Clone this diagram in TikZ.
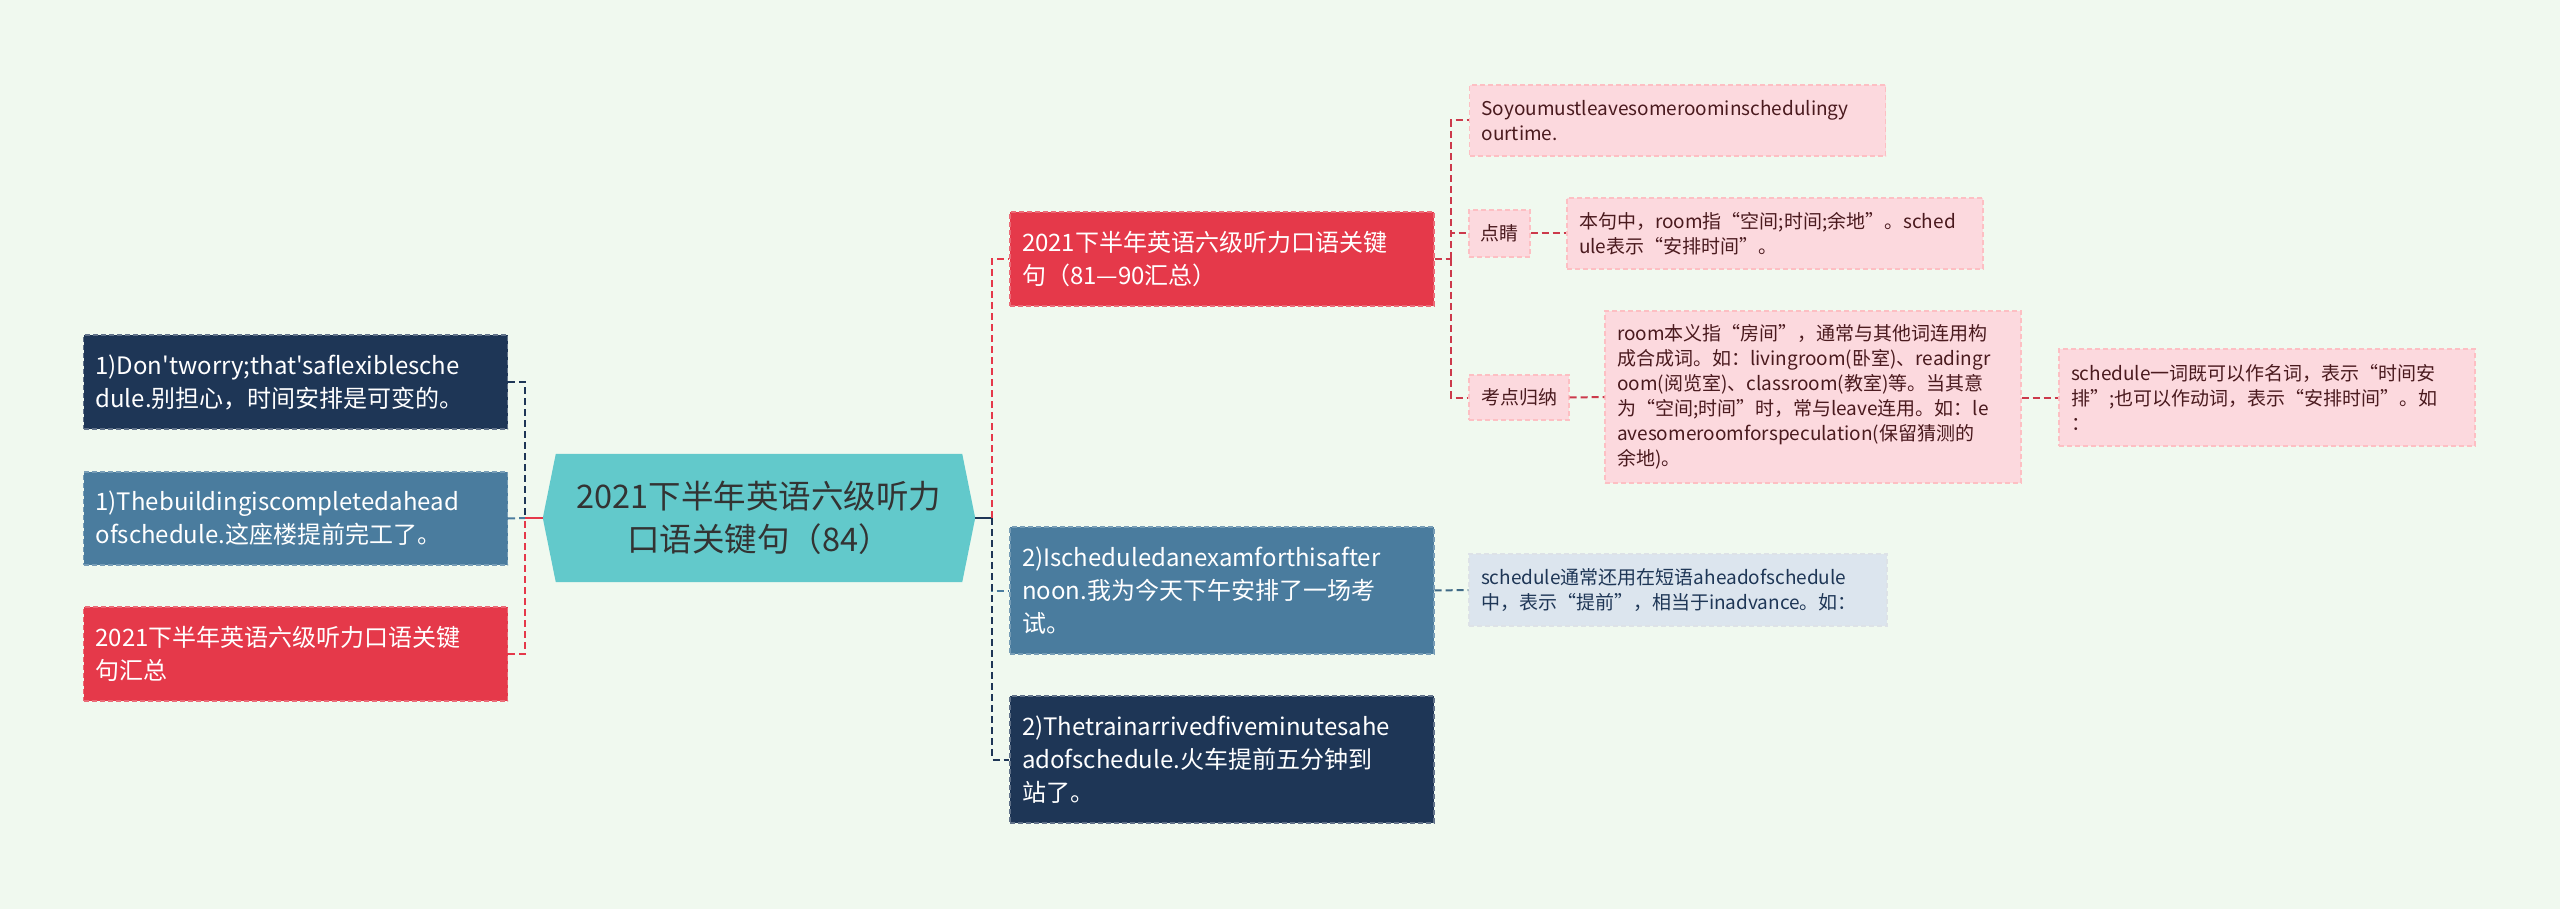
\documentclass[tikz,border=0pt]{standalone}
\usepackage{fontspec}
\setmainfont{Noto Sans CJK SC}[Ligatures=TeXOff]
\usetikzlibrary{calc}
\definecolor{bgc}{HTML}{F0F9EF}
\definecolor{navy}{HTML}{1E3656}
\definecolor{steel}{HTML}{4A7C9E}
\definecolor{redc}{HTML}{E5394A}
\definecolor{tealc}{HTML}{62C9CB}
\definecolor{pinkc}{HTML}{FCD9DE}
\definecolor{lblue}{HTML}{DCE5EE}
\definecolor{maroon}{HTML}{4A1A1E}
\definecolor{linkred}{HTML}{CC3A4B}
\pgfdeclarelayer{back}
\pgfsetlayers{back,main}
\tikzset{
  box/.style={rectangle, inner xsep=12pt, inner ysep=0pt, align=left, dash pattern=on 5pt off 3pt, line width=1.2pt},
  mainbox/.style={box, text=white, font=\fontsize{24}{33}\selectfont, text width=400pt, minimum height=#1},
  navybox/.style={mainbox=#1, fill=navy, draw=navy!70!white},
  steelbox/.style={mainbox=#1, fill=steel, draw=steel!75!white},
  redbox/.style={mainbox=#1, fill=redc, draw=redc!75!white},
  notebox/.style={box, fill=pinkc, draw=pinkc!85!red!90!white, text=maroon, font=\fontsize{19}{25}\selectfont, text width=392pt, minimum height=#1},
  tagbox/.style={box, inner xsep=4pt, align=center, fill=pinkc, draw=pinkc!85!red!90!white, text=maroon, font=\fontsize{19}{25}\selectfont, minimum height=#1},
  bluenote/.style={box, fill=lblue, draw=lblue!90!black!60!white, text=navy, font=\fontsize{19}{25}\selectfont, text width=394pt, minimum height=#1},
  conn/.style={line width=2pt, dash pattern=on 7pt off 4pt},
}
\begin{document}
\begin{tikzpicture}[x=1pt,y=-1pt]
\begin{pgfonlayer}{back}
\fill[bgc] (0,0) rectangle (2560,909);
\end{pgfonlayer}
\useasboundingbox (0,0) rectangle (2560,909);

% left nodes
\node[navybox=94] (L1) at (295.5,382) {1)Don'tworry;that'saflexiblesche\\dule.别担心，时间安排是可变的。};
\node[steelbox=93] (L2) at (295.5,518.5) {1)Thebuildingiscompletedahead\\ofschedule.这座楼提前完工了。};
\node[redbox=94] (L3) at (295.5,654) {2021下半年英语六级听力口语关键\\句汇总};

% center
\node[minimum width=432pt, minimum height=128pt, inner sep=0pt, align=center, text=black!80, font=\fontsize{32.5}{43}\selectfont] (C) at (759,518) {2021下半年英语六级听力\\口语关键句（84）};
\begin{pgfonlayer}{back}
\fill[tealc] (C.west) -- ($(C.north west)+(13,0)$) -- ($(C.north east)+(-13,0)$) -- (C.east) -- ($(C.south east)+(-13,0)$) -- ($(C.south west)+(13,0)$) -- cycle;
\end{pgfonlayer}

% right main nodes
\node[redbox=94] (R1) at (1222,259) {2021下半年英语六级听力口语关键\\句（81—90汇总）};
\node[steelbox=127] (R2) at (1222,590.5) {2)Ischeduledanexamforthisafter\\noon.我为今天下午安排了一场考\\试。};
\node[navybox=127] (R3) at (1222,759.5) {2)Thetrainarrivedfiveminutesahe\\adofschedule.火车提前五分钟到\\站了。};

% notes
\node[notebox=71] (S1) at (1677.5,120.5) {Soyoumustleavesomeroominschedulingy\\ourtime.};
\node[tagbox=47, minimum width=61pt] (T1) at (1499.5,233.5) {点睛};
\node[notebox=71] (B1) at (1775,233.5) {本句中，room指“空间;时间;余地”。sched\\ule表示“安排时间”。};
\node[tagbox=45, minimum width=100pt] (T2) at (1519,397.5) {考点归纳};
\node[notebox=172] (B2) at (1813,397) {room本义指“房间”，通常与其他词连用构\\成合成词。如：livingroom(卧室)、readingr\\oom(阅览室)、classroom(教室)等。当其意\\为“空间;时间”时，常与leave连用。如：le\\avesomeroomforspeculation(保留猜测的\\余地)。};
\node[notebox=97] (B3) at (2267,397.5) {schedule一词既可以作名词，表示“时间安\\排”;也可以作动词，表示“安排时间”。如\\：};
\node[bluenote=72] (B4) at (1678,590) {schedule通常还用在短语aheadofschedule\\中，表示“提前”，相当于inadvance。如：};

% left connectors
\coordinate (lj) at (525,518);
\draw[conn, navy] (L1.east) -| (lj);
\draw[conn, redc] (L3.east) -| (lj);
\draw[conn, steel] (L2.east) -- (lj);
\draw[line width=2pt, redc] (lj) -- (C.west);

% right connectors
\coordinate (rj) at (992,518);
\draw[line width=2pt, navy] (C.east) -- (rj);
\draw[conn, redc] (rj) |- (R1.west);
\draw[conn, steel] (rj) |- (R2.west);
\draw[conn, navy] (rj) |- (R3.west);

% R1 children
\coordinate (r1j) at (1451,259);
\draw[conn, linkred] (R1.east) -- (r1j);
\draw[conn, linkred] (r1j) |- (S1.west);
\draw[conn, linkred] (r1j) |- (T1.west);
\draw[conn, linkred] (r1j) |- (T2.west);
\draw[conn, linkred] (T1.east) -- (B1.west);
\draw[conn, linkred] (T2.east) -- (B2.west);
\draw[conn, linkred] (B2.east |- T2.east) -- (B3.west);
\draw[conn, steel!85!black] (R2.east) -- (B4.west);
\end{tikzpicture}
\end{document}
